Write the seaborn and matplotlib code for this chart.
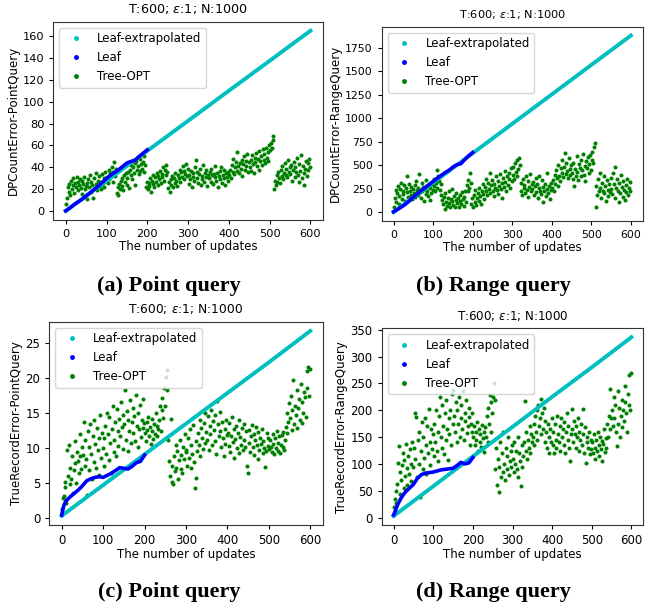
import matplotlib
matplotlib.use("Agg")
import matplotlib.pyplot as plt
import seaborn as sns
from matplotlib.lines import Line2D

# ---------------- data ----------------
tree_x = list(range(1, 600, 2))
leaf_x = [0, 3, 6, 10, 20, 30, 40, 50, 60, 70, 80, 90, 100, 110, 120, 130, 140, 150, 160, 170, 180, 190, 200]
extra_x = [0, 100, 200, 300, 400, 500, 600]

extra_a = [0.3, 27.7, 55.1, 82.5, 109.9, 137.2, 164.6]
extra_b = [0, 313, 627, 940, 1253, 1567, 1880]
extra_c = [0.3, 4.7, 9.1, 13.5, 17.9, 22.3, 26.8]
extra_d = [3, 58.5, 114, 169, 225, 280, 336]

leaf_a = [0.5, 1.2, 2, 3, 6, 8.5, 11, 14, 17, 20, 23, 26.5, 30, 33, 35.5, 38, 41, 44, 45.5, 46.5, 50, 53, 56]
leaf_b = [5, 12, 20, 30, 55, 85, 120, 160, 195, 230, 262, 295, 327, 360, 390, 420, 445, 480, 505, 515, 560, 600, 635]
leaf_c = [0.4, 1.3, 1.9, 2.4, 3.0, 3.5, 4.0, 4.6, 5.3, 5.6, 5.8, 5.9, 5.8, 6.1, 6.4, 6.8, 7.2, 7.1, 7.0, 7.4, 7.9, 8.1, 9.0]
leaf_d = [5, 10, 16, 24, 38, 48, 55, 62, 73, 80, 83, 84, 85, 87, 89, 90, 91, 92, 97, 103, 100, 102, 112]

tree_a = [
    7, 12, 22, 18, 25, 15, 28, 20, 24, 30, 17, 26, 22, 31, 19, 27, 24, 29, 21, 16, 28, 25, 31, 20, 23,
    26, 11, 29, 22, 33, 18, 27, 24, 12, 30, 21, 35, 25, 19, 28, 32, 23, 27, 20, 34, 26, 30, 22, 36, 28,
    31, 26, 38, 29, 35, 33, 40, 27, 36, 45, 32, 39, 17, 22, 15, 25, 20, 28, 23, 30, 19, 33, 27, 35, 24,
    30, 36, 21, 38, 33, 42, 29, 40, 35, 44, 24, 46, 38, 41, 34, 48, 37, 43, 39, 45, 36, 50, 42, 22, 27,
    20, 26, 23, 30, 18, 28, 25, 33, 22, 31, 27, 35, 24, 32, 29, 37, 26, 34, 31, 40, 28, 38, 33, 42, 36,
    21, 27, 18, 29, 24, 32, 22, 30, 26, 35, 28, 23, 33, 30, 38, 27, 36, 31, 41, 29, 37, 34, 43, 32, 39,
    25, 33, 29, 37, 22, 35, 31, 28, 40, 47, 30, 36, 26, 34, 39, 24, 32, 29, 42, 27, 35, 31, 38, 23, 33,
    30, 36, 27, 39, 33, 25, 34, 31, 41, 28, 35, 22, 32, 37, 29, 40, 26, 33, 30, 38, 24, 35, 31, 28, 36,
    33, 38, 30, 42, 36, 48, 34, 40, 45, 37, 54, 41, 35, 44, 39, 47, 32, 43, 50, 38, 46, 41, 52, 36, 45,
    40, 47, 37, 51, 43, 35, 49, 45, 53, 41, 48, 38, 55, 46, 50, 42, 57, 47, 52, 44, 58, 49, 54, 46, 60,
    56, 62, 58, 65, 69, 20, 28, 24, 33, 27, 36, 30, 26, 38, 32, 41, 29, 35, 44, 33, 39, 31, 47, 36, 40,
    34, 42, 28, 38, 45, 31, 40, 36, 49, 33, 27, 43, 37, 51, 30, 41, 35, 24, 39, 46, 32, 44, 38, 48, 40,
]

tree_b = [
    60, 150, 240, 110, 200, 280, 170, 90, 250, 310, 140, 220, 190, 290, 120, 260, 380, 210, 160, 300, 230, 180, 270, 140, 250,
    200, 290, 160, 330, 240, 180, 260, 410, 210, 150, 310, 230, 270, 120, 250, 190, 340, 220, 170, 280, 130, 260, 200, 300, 240,
    280, 350, 220, 310, 450, 260, 390, 330, 240, 300, 180, 130, 90, 160, 32, 200, 110, 70, 150, 230, 100, 60, 140, 250, 120,
    80, 170, 60, 130, 200, 100, 150, 50, 180, 120, 90, 210, 140, 70, 160, 230, 110, 290, 220, 340, 260, 416, 310, 90, 150,
    60, 180, 110, 240, 80, 150, 200, 120, 260, 170, 90, 220, 300, 190, 140, 270, 230, 350, 180, 310, 250, 420, 200, 290, 340,
    220, 300, 170, 260, 380, 240, 330, 190, 280, 410, 250, 310, 150, 360, 270, 440, 320, 230, 390, 290, 350, 420, 260, 470, 330,
    400, 480, 350, 520, 430, 380, 550, 460, 576, 500, 230, 310, 180, 350, 260, 290, 200, 380, 240, 330, 160, 270, 410, 220, 300,
    250, 320, 180, 280, 360, 210, 300, 150, 260, 390, 230, 190, 340, 270, 110, 220, 300, 170, 250, 420, 200, 280, 140, 240, 310,
    260, 340, 220, 400, 300, 450, 360, 280, 500, 390, 330, 470, 420, 550, 370, 480, 630, 410, 520, 440, 360, 580, 460, 400, 500,
    420, 350, 520, 280, 460, 390, 600, 430, 340, 510, 470, 380, 560, 450, 620, 400, 490, 330, 540, 470, 590, 420, 510, 610, 450,
    560, 640, 520, 690, 736, 57, 280, 180, 350, 220, 420, 260, 150, 310, 230, 390, 200, 280, 120, 340, 240, 170, 300, 210, 360,
    250, 190, 420, 300, 150, 480, 260, 350, 220, 110, 310, 200, 400, 270, 160, 330, 240, 130, 290, 210, 350, 180, 260, 320, 230,
]

tree_c = [
    1.3, 2.8, 3.2, 5.1, 4.4, 2.2, 9.8, 6.0, 10.5, 4.8, 7.2, 5.5, 8.8, 3.6, 6.9, 11.0, 7.8, 5.0, 9.5, 8.2, 6.4, 12.0, 8.9, 7.0, 10.2,
    9.0, 13.8, 7.5, 11.2, 8.4, 3.3, 12.5, 6.8, 10.1, 13.5, 9.2, 5.6, 11.8, 8.0, 14.1, 10.6, 7.2, 12.9, 9.7, 6.1, 11.4, 14.7, 8.6, 12.2, 10.0,
    11.5, 7.4, 13.2, 9.1, 15.0, 12.0, 8.3, 14.4, 10.7, 6.5, 12.8, 16.0, 11.1, 9.4, 13.7, 8.8, 15.6, 12.4, 10.3, 14.2, 11.8, 16.6, 13.0, 9.9, 14.8,
    13.5, 18.3, 11.2, 15.3, 9.6, 14.0, 12.5, 16.9, 10.8, 13.8, 15.7, 12.1, 14.6, 11.0, 17.6, 13.2, 10.2, 15.0, 12.7, 16.2, 11.6, 14.1, 12.9, 17.0, 13.6,
    12.2, 11.0, 13.8, 12.6, 14.5, 11.8, 13.0, 10.6, 12.4, 14.2, 11.3, 13.5, 12.0, 15.1, 11.7, 13.2, 12.8, 14.0, 16.1, 12.5, 15.4, 17.2, 14.3, 18.6, 16.0,
    20.2, 18.4, 21.2, 11.2, 8.1, 6.0, 14.2, 5.2, 7.5, 4.8, 8.8, 6.7, 10.4, 7.2, 9.6, 5.6, 8.3, 11.1, 7.0, 9.0, 6.4, 10.2, 8.5, 12.0, 9.5,
    9.8, 7.4, 11.5, 8.6, 12.7, 7.1, 10.4, 9.2, 13.3, 8.0, 4.3, 5.7, 11.0, 9.6, 12.2, 10.5, 14.0, 8.9, 12.9, 11.4, 9.9, 13.6, 10.8, 15.0, 12.3,
    11.2, 14.6, 9.7, 13.1, 12.0, 15.5, 10.4, 13.9, 12.6, 11.0, 14.8, 9.2, 16.7, 13.4, 11.7, 15.2, 12.4, 10.1, 13.8, 11.5, 8.9, 12.8, 10.6, 14.1, 11.9,
    12.2, 10.3, 13.6, 9.5, 11.8, 14.4, 10.9, 12.7, 8.6, 11.3, 13.2, 10.0, 12.1, 9.3, 14.0, 11.6, 10.5, 12.9, 9.8, 13.5, 11.1, 10.2, 12.4, 7.4, 6.4,
    10.8, 12.6, 9.4, 11.7, 13.3, 10.1, 12.0, 9.0, 11.2, 13.0, 10.4, 8.5, 12.3, 9.8, 11.5, 10.6, 12.8, 9.3, 11.0, 10.0, 7.3, 9.6, 12.1, 10.3, 11.4,
    9.9, 11.1, 10.2, 9.4, 12.0, 10.6, 9.1, 11.4, 10.0, 12.5, 9.6, 10.8, 11.7, 9.3, 10.4, 11.9, 10.1, 12.3, 9.8, 11.2, 13.0, 12.1, 15.1, 13.7, 16.4,
    14.3, 17.5, 12.6, 15.4, 19.8, 13.4, 16.1, 14.8, 18.3, 12.9, 15.7, 17.0, 14.1, 19.2, 13.6, 16.6, 15.0, 18.0, 17.3, 14.5, 21.0, 18.6, 21.7, 17.4, 21.3,
]

tree_d = [
    20, 35, 50, 28, 62, 102, 133, 45, 85, 70, 99, 120, 55, 108, 78, 138, 92, 60, 115, 82, 128, 100, 68, 140, 95,
    130, 194, 110, 188, 75, 145, 100, 160, 38, 125, 178, 90, 150, 112, 185, 135, 82, 170, 120, 203, 140, 98, 165, 128, 155,
    115, 175, 140, 200, 125, 160, 105, 190, 225, 150, 130, 210, 170, 118, 195, 145, 220, 165, 108, 185, 155, 200, 135, 230, 175,
    238, 190, 160, 215, 140, 200, 175, 225, 150, 185, 210, 165, 235, 145, 195, 180, 220, 158, 170, 205, 188, 135, 175, 160, 195,
    150, 170, 135, 160, 145, 178, 125, 165, 140, 155, 132, 172, 148, 160, 122, 168, 150, 190, 140, 205, 175, 228, 160, 215, 195,
    225, 250, 220, 90, 130, 60, 110, 47, 95, 140, 75, 120, 85, 160, 100, 70, 130, 90, 115, 150, 80, 105, 125, 95, 135,
    110, 85, 140, 100, 125, 90, 150, 75, 120, 105, 59, 95, 135, 115, 140, 218, 125, 160, 110, 145, 130, 170, 120, 155, 140,
    150, 175, 135, 190, 160, 200, 145, 210, 170, 185, 155, 221, 195, 165, 205, 140, 180, 160, 130, 175, 150, 120, 165, 140, 185,
    135, 160, 120, 175, 145, 130, 190, 155, 140, 170, 125, 185, 150, 165, 135, 178, 120, 160, 195, 145, 170, 130, 105, 155, 203,
    165, 140, 180, 155, 130, 170, 150, 185, 125, 160, 145, 175, 135, 203, 155, 120, 168, 102, 140, 150, 130, 160, 118, 145, 128,
    140, 120, 155, 130, 110, 145, 125, 160, 135, 115, 150, 128, 142, 105, 138, 165, 122, 148, 130, 175, 150, 190, 165, 240, 185,
    200, 170, 225, 185, 210, 160, 133, 235, 175, 205, 150, 190, 220, 168, 200, 180, 215, 245, 195, 160, 230, 210, 265, 200, 269,
]

ylabels = ["DPCountError-PointQuery", "DPCountError-RangeQuery",
           "TrueRecordError-PointQuery", "TrueRecordError-RangeQuery"]
yticks = [list(range(0, 161, 20)), list(range(0, 1751, 250)),
          list(range(0, 26, 5)), list(range(0, 351, 50))]
captions = ["(a) Point query", "(b) Range query", "(c) Point query", "(d) Range query"]
series_labels = ["Leaf-extrapolated", "Leaf", "Tree-OPT"]
title = r"T:600; $\varepsilon$:1; N:1000"

for name, arr in [("a", tree_a), ("b", tree_b), ("c", tree_c), ("d", tree_d)]:
    if len(arr) != len(tree_x):
        raise ValueError(f"tree_{name} has {len(arr)} values")

# ---------------- layout ----------------
W, H = 655, 605
fig = plt.figure(figsize=(W / 100, H / 100), dpi=100)


def rect(l, r, t, b):
    return [l / W, 1 - b / H, (r - l) / W, (b - t) / H]


rects = [rect(53.5, 322.7, 21.7, 220), rect(381.7, 642.7, 26.7, 221),
         rect(49.3, 322.7, 321.7, 525), rect(381.7, 643.3, 328.3, 525)]
cap_pos = [(169, 286), (493, 286), (169, 592), (493, 592)]
tick_fs = [8.2, 7.8, 8.5, 8.5]
title_fs = [9.2, 8.2, 8.8, 8.6]

extras = [extra_a, extra_b, extra_c, extra_d]
leaves = [leaf_a, leaf_b, leaf_c, leaf_d]
trees = [tree_a, tree_b, tree_c, tree_d]

for i in range(4):
    ax = fig.add_axes(rects[i])
    sns.lineplot(x=extra_x, y=extras[i], color="c", linewidth=2.8, ax=ax)
    sns.lineplot(x=leaf_x, y=leaves[i], color="b", linewidth=2.6, ax=ax)
    sns.scatterplot(x=tree_x, y=trees[i], color="g", s=8.5, linewidth=0, ax=ax)
    ax.set_xticks([0, 100, 200, 300, 400, 500, 600])
    ax.set_yticks(yticks[i])
    ax.tick_params(labelsize=tick_fs[i], length=3)
    for sp in ax.spines.values():
        sp.set_color("#333333")
    ax.set_title(title, fontsize=title_fs[i])
    ax.set_xlabel("The number of updates", fontsize=8.5, labelpad=1)
    ax.set_ylabel(ylabels[i], fontsize=8.5, labelpad=2)
    handles = [Line2D([], [], ls="", marker="o", markersize=2.5, color=c)
               for c in ["c", "b", "g"]]
    ax.legend(handles, series_labels, loc="upper left", fontsize=8.5)
    fig.text(cap_pos[i][0] / W, 1 - cap_pos[i][1] / H, captions[i],
             ha="center", va="center", fontsize=16, fontweight="bold",
             family=["Liberation Serif", "DejaVu Serif"])

fig.savefig("out.png", dpi=100)
